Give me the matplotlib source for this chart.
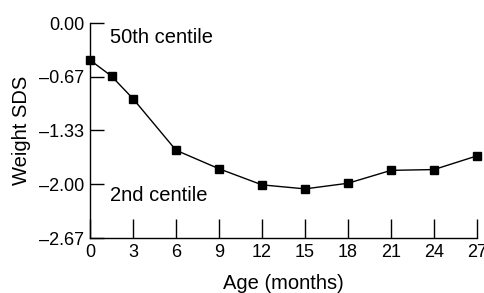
import numpy as np
import matplotlib.pyplot as plt

plt.rcParams['font.family'] = ['Liberation Sans', 'DejaVu Sans']

# data
age = [0, 1.5, 3, 6, 9, 12, 15, 18, 21, 24, 27]
sds = [-0.46, -0.66, -0.94, -1.58, -1.81, -2.01, -2.06, -1.99, -1.83, -1.82, -1.65]
yticks = [0.00, -0.67, -1.33, -2.00, -2.67]
xticks = [0, 3, 6, 9, 12, 15, 18, 21, 24, 27]

fig = plt.figure(figsize=(4.85, 2.93), dpi=100)
ax = fig.add_axes([0.1856, 0.1877, 0.7979, 0.7338])

ax.plot(age, sds, 'k-', lw=1.0, marker='s', ms=5.5, mfc='k', mec='k', zorder=3, clip_on=False)

ax.set_xlim(0, 27)
ax.set_ylim(-2.67, 0)
ax.set_xticks(xticks)
ax.set_yticks(yticks)
ax.set_yticklabels(['0.00' if t == 0 else '\u2013%.2f' % abs(t) for t in yticks])
# ticks point inward: x ticks up, y ticks right
ax.tick_params(axis='x', direction='in', length=14, width=1.0, labelsize=13, pad=4)
ax.tick_params(axis='y', direction='in', length=10, width=1.0, labelsize=13, pad=4)

for s in ['top', 'right']:
    ax.spines[s].set_visible(False)
for s in ['left', 'bottom']:
    ax.spines[s].set_linewidth(1.0)

ax.text(1.4, -0.18, '50th centile', fontsize=14.5, va='center', ha='left')
ax.text(1.4, -2.14, '2nd centile', fontsize=14.5, va='center', ha='left')

ax.set_xlabel('Age (months)', fontsize=14.5, labelpad=10)
ax.set_ylabel('Weight SDS', fontsize=14.5, labelpad=6)

fig.savefig('out.png', dpi=100)
